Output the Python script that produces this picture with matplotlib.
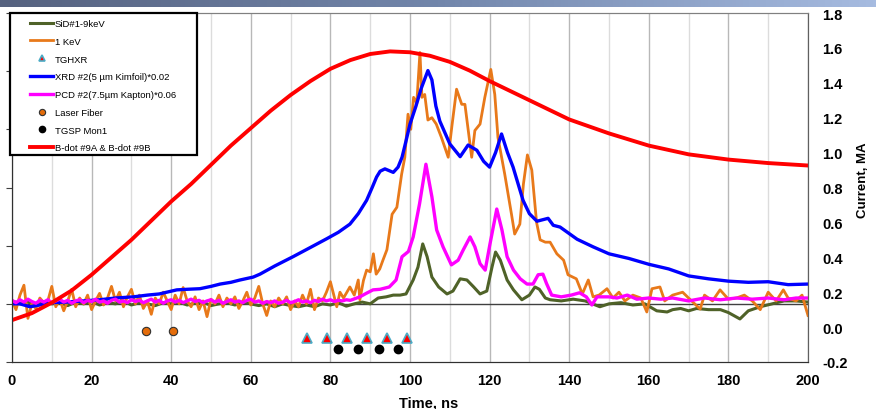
import matplotlib
matplotlib.use('Agg')
import matplotlib.pyplot as plt
from matplotlib.colors import LinearSegmentedColormap
from matplotlib.patches import Rectangle
import numpy as np

plt.rcParams['font.family'] = ['Liberation Sans', 'DejaVu Sans']

# ---- data (left axis: detector signals, arb. units; right axis: current, MA) ----
# SiD#1-9keV: baseline every 2 ns from 0 to 90 ns, then read points
sid_base = [0.05, 0.0, 0.03, -0.02, 0.04, 0.0, 0.02, -0.03, 0.03, 0.0, 0.04, -0.02,
            0.02, 0.0, 0.05, -0.02, 0.02, 0.0, -0.03, 0.02, 0.0, 0.03, -0.02, 0.01,
            0.03, -0.03, 0.0, 0.02, -0.02, 0.03, 0.0, -0.03, 0.0, -0.05, 0.0, -0.03,
            -0.05, -0.02, -0.05, 0.0, -0.02, 0.02, -0.04, 0.0, 0.03, 0.0]
sid_t = [92, 94, 95.8, 97.5, 99, 100.8, 102, 103.2, 104.3, 105.5, 107.2, 109.3, 110.8,
         112.6, 114.3, 116, 117.6, 119.3, 120.6, 121.5, 122.7, 124.4, 126, 128.1, 130,
         131.4, 132.5, 134, 135.2, 138, 141, 144, 147.7, 150, 153, 156, 159, 162, 164.6,
         166, 168, 170, 172, 175, 178, 180, 182.9, 185, 188, 191, 194, 197, 200]
sid_v = [0.1, 0.12, 0.15, 0.15, 0.17, 0.41, 0.63, 1.03, 0.81, 0.46, 0.29, 0.17, 0.22,
         0.43, 0.41, 0.29, 0.17, 0.22, 0.63, 0.89, 0.75, 0.41, 0.24, 0.07, 0.15,
         0.29, 0.25, 0.1, 0.07, 0.05, 0.08, 0.05, -0.05, 0.0, 0.02, -0.02, 0.0, -0.12, -0.14,
         -0.1, -0.08, -0.12, -0.08, -0.1, -0.1, -0.15, -0.26, -0.12, -0.05, 0.0, 0.05, 0.05, 0.03]

# 1 KeV: baseline every 1 ns from 0 to 79 ns, then read points
kev_base = [0.05, -0.1, 0.15, 0.32, -0.25, 0.0, -0.08, 0.1, 0.02, 0.05, 0.3, -0.05,
            0.08, -0.12, 0.05, 0.25, -0.05, 0.1, 0.0, 0.15, -0.1, 0.05, 0.18, -0.02,
            0.1, 0.3, 0.05, 0.2, -0.05, 0.12, 0.25, 0.0, 0.15, -0.08, 0.05, -0.18,
            0.1, 0.0, 0.2, 0.05, -0.1, 0.15, 0.0, 0.28, 0.05, -0.05, 0.12, -0.1,
            0.05, -0.22, 0.08, 0.0, 0.15, -0.05, 0.1, 0.0, 0.12, -0.08, 0.05, 0.2,
            -0.02, 0.1, 0.3, 0.0, -0.2, 0.05, -0.05, 0.1, 0.0, 0.12, -0.1, 0.05,
            -0.05, 0.15, 0.0, 0.25, -0.1, 0.1, 0.05, 0.2]
kev_t = [80, 81.6, 82.4, 83.3, 84.9, 86, 87, 87.4, 88.3, 89.1, 90, 90.8, 91.5, 92.4, 93.2,
         94.2, 95.5, 96.7, 97.9, 98.7, 99.5, 100.2, 100.9, 101.7, 102.5, 103, 103.7, 104.5,
         105.5, 106.6, 107.9, 109.6, 110.5, 111.7, 113, 113.8, 115.1, 115.5, 116.3, 117.6,
         118.8, 120.3, 121.3, 122.1, 123.8, 125.5, 126.3, 127.6, 128.5, 129.5, 130.6, 131.8,
         132.7, 134, 135.2, 136.9, 138.6, 139.7, 141.8, 143.3, 144.8, 146, 147.5, 149.5,
         151, 152.5, 154, 156, 158, 159.5, 160.8, 162.8, 164, 166, 168.5, 170, 172.9, 174,
         176, 177.9, 180, 182, 184, 186, 188, 190, 192, 193.8, 195, 197, 198.5, 200]
kev_v = [0.38, -0.05, 0.2, 0.1, 0.29, 0.15, 0.41, 0.07, 0.4, 0.58, 0.55, 0.86, 0.51, 0.6, 0.75,
         0.93, 1.54, 1.66, 2.23, 2.52, 3.26, 3.0, 3.55, 3.45, 4.32, 3.55, 3.6, 3.16,
         3.2, 3.09, 2.86, 2.52, 3.04, 3.69, 3.43, 3.43, 2.74, 2.52, 2.98, 3.09,
         3.55, 4.03, 3.6, 2.86, 2.23, 1.54, 1.2, 1.37, 2.06, 2.56, 2.3, 1.4,
         1.1, 1.06, 1.06, 0.86, 0.75, 0.5, 0.43, 0.17, 0.41, 0.12, 0.15, 0.26,
         0.1, 0.2, 0.05, 0.15, 0.1, -0.14, 0.26, 0.29, 0.05, 0.15, 0.2, 0.1, -0.09, 0.15,
         0.05, 0.24, 0.08, 0.1, 0.15, 0.05, -0.1, 0.2, 0.05, 0.24, 0.1, 0.05, 0.15, -0.2]

# XRD #2
xrd_t = [0, 2, 4.5, 7, 9.5, 13.7, 18, 22, 26, 30.5, 34, 37, 41.4, 44, 47.2, 50, 52.3, 55,
         57.3, 60.6, 62.3, 66, 70.6, 75, 79.1, 82, 84.9, 87, 89.1, 90.5, 91.6, 92.5, 93.7,
         95.8, 97, 98, 99, 100, 101.5, 102.8, 104.5, 105.5, 106.5, 107.5, 110, 112.6, 114.6,
         116.8, 118.5, 120, 121.5, 123, 124.5, 125.9, 128.4, 130, 131.9, 134.7, 136, 137.7,
         142, 146, 150, 155, 160, 165, 170, 175, 180, 185, 190, 195, 200]
xrd_v = [0.0, 0.0, -0.05, -0.02, 0.02, 0.03, 0.05, 0.07, 0.1, 0.12, 0.15, 0.17, 0.24, 0.25,
         0.26, 0.3, 0.34, 0.37, 0.41, 0.46, 0.51, 0.65, 0.81, 0.97, 1.12, 1.23, 1.37, 1.55,
         1.78, 2.0, 2.18, 2.28, 2.32, 2.26, 2.35, 2.52, 2.8, 3.09, 3.4, 3.7, 4.01, 3.85, 3.4,
         3.14, 2.75, 2.53, 2.73, 2.64, 2.45, 2.35, 2.6, 2.92, 2.6, 2.35, 1.78, 1.55, 1.42,
         1.47, 1.35, 1.32, 1.11, 0.98, 0.86, 0.78, 0.68, 0.6, 0.48, 0.43, 0.39, 0.37, 0.38,
         0.33, 0.34]

# PCD #2: baseline every 1 ns from 0 to 85 ns, then read points
pcd_base = [0.06, 0.02, 0.07, 0.03, 0.08, 0.04, 0.01, 0.06, 0.03, 0.07, 0.02, 0.05,
            0.08, 0.03, 0.06, 0.01, 0.05, 0.07, 0.02, 0.06, 0.04, 0.08, 0.03, 0.05,
            0.01, 0.06, 0.08, 0.03, 0.05, 0.02, 0.07, 0.04, 0.06, 0.02, 0.05, 0.08,
            0.03, 0.06, 0.01, 0.05, 0.07, 0.03, 0.06, 0.02, 0.05, 0.08, 0.04, 0.06,
            0.02, 0.05, 0.07, 0.03, 0.06, 0.01, 0.04, 0.07, 0.03, 0.05, 0.02, 0.06,
            0.08, 0.03, 0.05, 0.01, 0.04, 0.02, 0.05, 0.01, 0.03, 0.06, 0.02, 0.04,
            0.07, 0.03, 0.05, 0.02, 0.06, 0.04, 0.08, 0.05, 0.07, 0.04, 0.06, 0.05,
            0.07, 0.06]
pcd_t = [87.4, 89, 90.7, 92.5, 94.8, 96.5, 98, 99.6, 100.8, 102.4, 104, 105.5, 106.7, 108.3,
         110.4, 112.1, 113.4, 115.1, 116.3, 117.6, 118.9, 120.1, 121.8, 123.1, 124.4, 126,
         127.7, 129.4, 130.9, 132.2, 133.4, 134.3, 135.6, 138, 140.5, 142.6, 144.3, 145.7,
         147, 150, 152, 154.6, 157, 160, 163, 166, 170, 174, 178, 182, 186, 190, 194, 197, 200]
pcd_v = [0.12, 0.18, 0.24, 0.25, 0.29, 0.41, 0.81, 0.9, 1.15, 1.72, 2.4, 1.84, 1.27, 0.98,
         0.67, 0.75, 0.93, 1.15, 0.98, 0.69, 0.58, 1.03, 1.63, 1.27, 0.81, 0.58,
         0.43, 0.34, 0.34, 0.5, 0.51, 0.35, 0.15, 0.12, 0.15, 0.19, 0.12, -0.02,
         0.12, 0.12, 0.1, 0.15, 0.08, 0.1, 0.08, 0.1, 0.05, 0.1, 0.07, 0.1, 0.08, 0.1, 0.07,
         0.1, 0.1]

# B-dot current (MA)
bdot_t = [0, 5, 10, 15, 20, 25, 30, 35, 40, 45, 50, 55, 60, 65, 70, 75, 80, 85, 90, 95,
          100, 105, 110, 115, 120, 125, 130, 135, 140, 145, 150, 160, 170, 180, 190, 200]
bdot_v = [0.04, 0.08, 0.14, 0.21, 0.3, 0.4, 0.5, 0.61, 0.72, 0.82, 0.93, 1.04, 1.14, 1.24,
          1.33, 1.41, 1.48, 1.53, 1.565, 1.58, 1.575, 1.555, 1.52, 1.47, 1.41, 1.355, 1.3,
          1.245, 1.19, 1.15, 1.11, 1.04, 0.99, 0.96, 0.94, 0.926]

# timing markers
laser_t = [33.6, 40.5]
laser_v = [-0.46, -0.46]
tghxr_t = [74.0, 79.1, 84.1, 89.1, 94.1, 99.2]
tghxr_v = [-0.59] * 6
tgsp_t = [82.0, 87.0, 92.1, 96.9]
tgsp_v = [-0.78] * 4

# ---- figure ----
fig = plt.figure(figsize=(8.76, 4.10), dpi=100)

# header band
band = fig.add_axes([0, 1 - 8 / 410, 1, 8 / 410])
cmap = LinearSegmentedColormap.from_list('band', ['#56627f', '#7286ab', '#a6bbe0'])
band.imshow(np.linspace(0, 1, 256)[None, :], aspect='auto', cmap=cmap)
band.axis('off')

ax = fig.add_axes([12 / 876, 47 / 410, 796 / 876, 349 / 410])
ax2 = ax.twinx()

sid_x = np.concatenate([np.arange(len(sid_base)) * 2.0, sid_t])
sid_y = np.concatenate([sid_base, sid_v])
kev_x = np.concatenate([np.arange(len(kev_base)) * 1.0, kev_t])
kev_y = np.concatenate([kev_base, kev_v])
pcd_x = np.concatenate([np.arange(len(pcd_base)) * 1.0, pcd_t])
pcd_y = np.concatenate([pcd_base, pcd_v])

l_sid, = ax.plot(sid_x, sid_y, color='#4f6228', lw=2.2, label='SiD#1-9keV')
l_kev, = ax.plot(kev_x, kev_y, color='#e8791a', lw=2.0, label='1 KeV')
l_xrd, = ax.plot(xrd_t, xrd_v, color='#0000ff', lw=2.4, label='XRD #2(5 µm Kimfoil)*0.02')
l_pcd, = ax.plot(pcd_x, pcd_y, color='#ff00ff', lw=2.4, label='PCD #2(7.5µm Kapton)*0.06')
m_tghxr, = ax.plot(tghxr_t, tghxr_v, ls='none', marker='^', ms=7, mfc='#ff0000',
                   mec='#4bacc6', mew=1.2, label='TGHXR')
m_laser, = ax.plot(laser_t, laser_v, ls='none', marker='o', ms=6, mfc='#e46c0a',
                   mec='#303030', mew=0.8, label='Laser Fiber')
m_tgsp, = ax.plot(tgsp_t, tgsp_v, ls='none', marker='o', ms=6, mfc='black',
                  mec='black', label='TGSP Mon1')
ax.axhline(0, color='#404040', lw=1.0, zorder=1)

l_bdot, = ax2.plot(bdot_t, bdot_v, color='#ff0000', lw=2.8, label='B-dot #9A & B-dot #9B')

ax.set_xlim(0, 200)
ax.set_ylim(-1, 5)
ax2.set_ylim(-0.2, 1.8)

ax.set_xticks(np.arange(0, 201, 20))
ax.set_xticks(np.arange(10, 200, 20), minor=True)
ax.grid(axis='x', which='major', color='#b8b8b8', lw=1.0)
ax.grid(axis='x', which='minor', color='#dcdcdc', lw=1.0)
ax.set_axisbelow(True)
ax.set_yticks(np.arange(-1, 6, 1))
ax.tick_params(axis='y', direction='out', length=4, labelleft=False, color='#404040')
ax.tick_params(axis='x', which='both', length=0, pad=8, labelsize=10.5)
for lab in ax.get_xticklabels():
    lab.set_fontweight('bold')

ax2.set_yticks(np.arange(-0.2, 1.81, 0.2))
ax2.set_yticklabels(['%.1f' % v for v in np.arange(-0.2, 1.81, 0.2)],
                    fontweight='bold', fontsize=10.5)
ax2.tick_params(axis='y', length=0, pad=10)

ax.set_xlabel('Time, ns', fontweight='bold', fontsize=10.5)
ax.xaxis.set_label_coords(0.523, -0.095)
ax2.set_ylabel('Current, MA', fontweight='bold', fontsize=9.5)
ax2.yaxis.set_label_coords(1.062, 0.524)

for a in (ax, ax2):
    a.spines['top'].set_color('#808080')
    a.spines['right'].set_color('#606060')
    a.spines['left'].set_color('#303030')
    a.spines['bottom'].set_color('#303030')

# legend box (frame drawn separately so the entries can sit inset like the original)
box = Rectangle((-2 / 796, 1 - 142 / 349), 187 / 796, 142 / 349, transform=ax2.transAxes,
                facecolor='white', edgecolor='black', lw=1.6, clip_on=False, zorder=5)
ax2.add_patch(box)

handles = [l_sid, l_kev, m_tghxr, l_xrd, l_pcd, m_laser, m_tgsp, l_bdot]
leg = ax2.legend(handles, [h.get_label() for h in handles], loc='upper left',
                 bbox_to_anchor=(18 / 796, 1 - 6 / 349), frameon=False,
                 fontsize=6.8, labelspacing=0.93, handlelength=2.45, handletextpad=0.2,
                 borderpad=0, borderaxespad=0, numpoints=1)
leg.set_zorder(6)
for h in leg.legend_handles:
    if h.get_marker() in ('o', '^'):
        h.set_markersize(4.5)

plt.savefig('out.png', dpi=100)
